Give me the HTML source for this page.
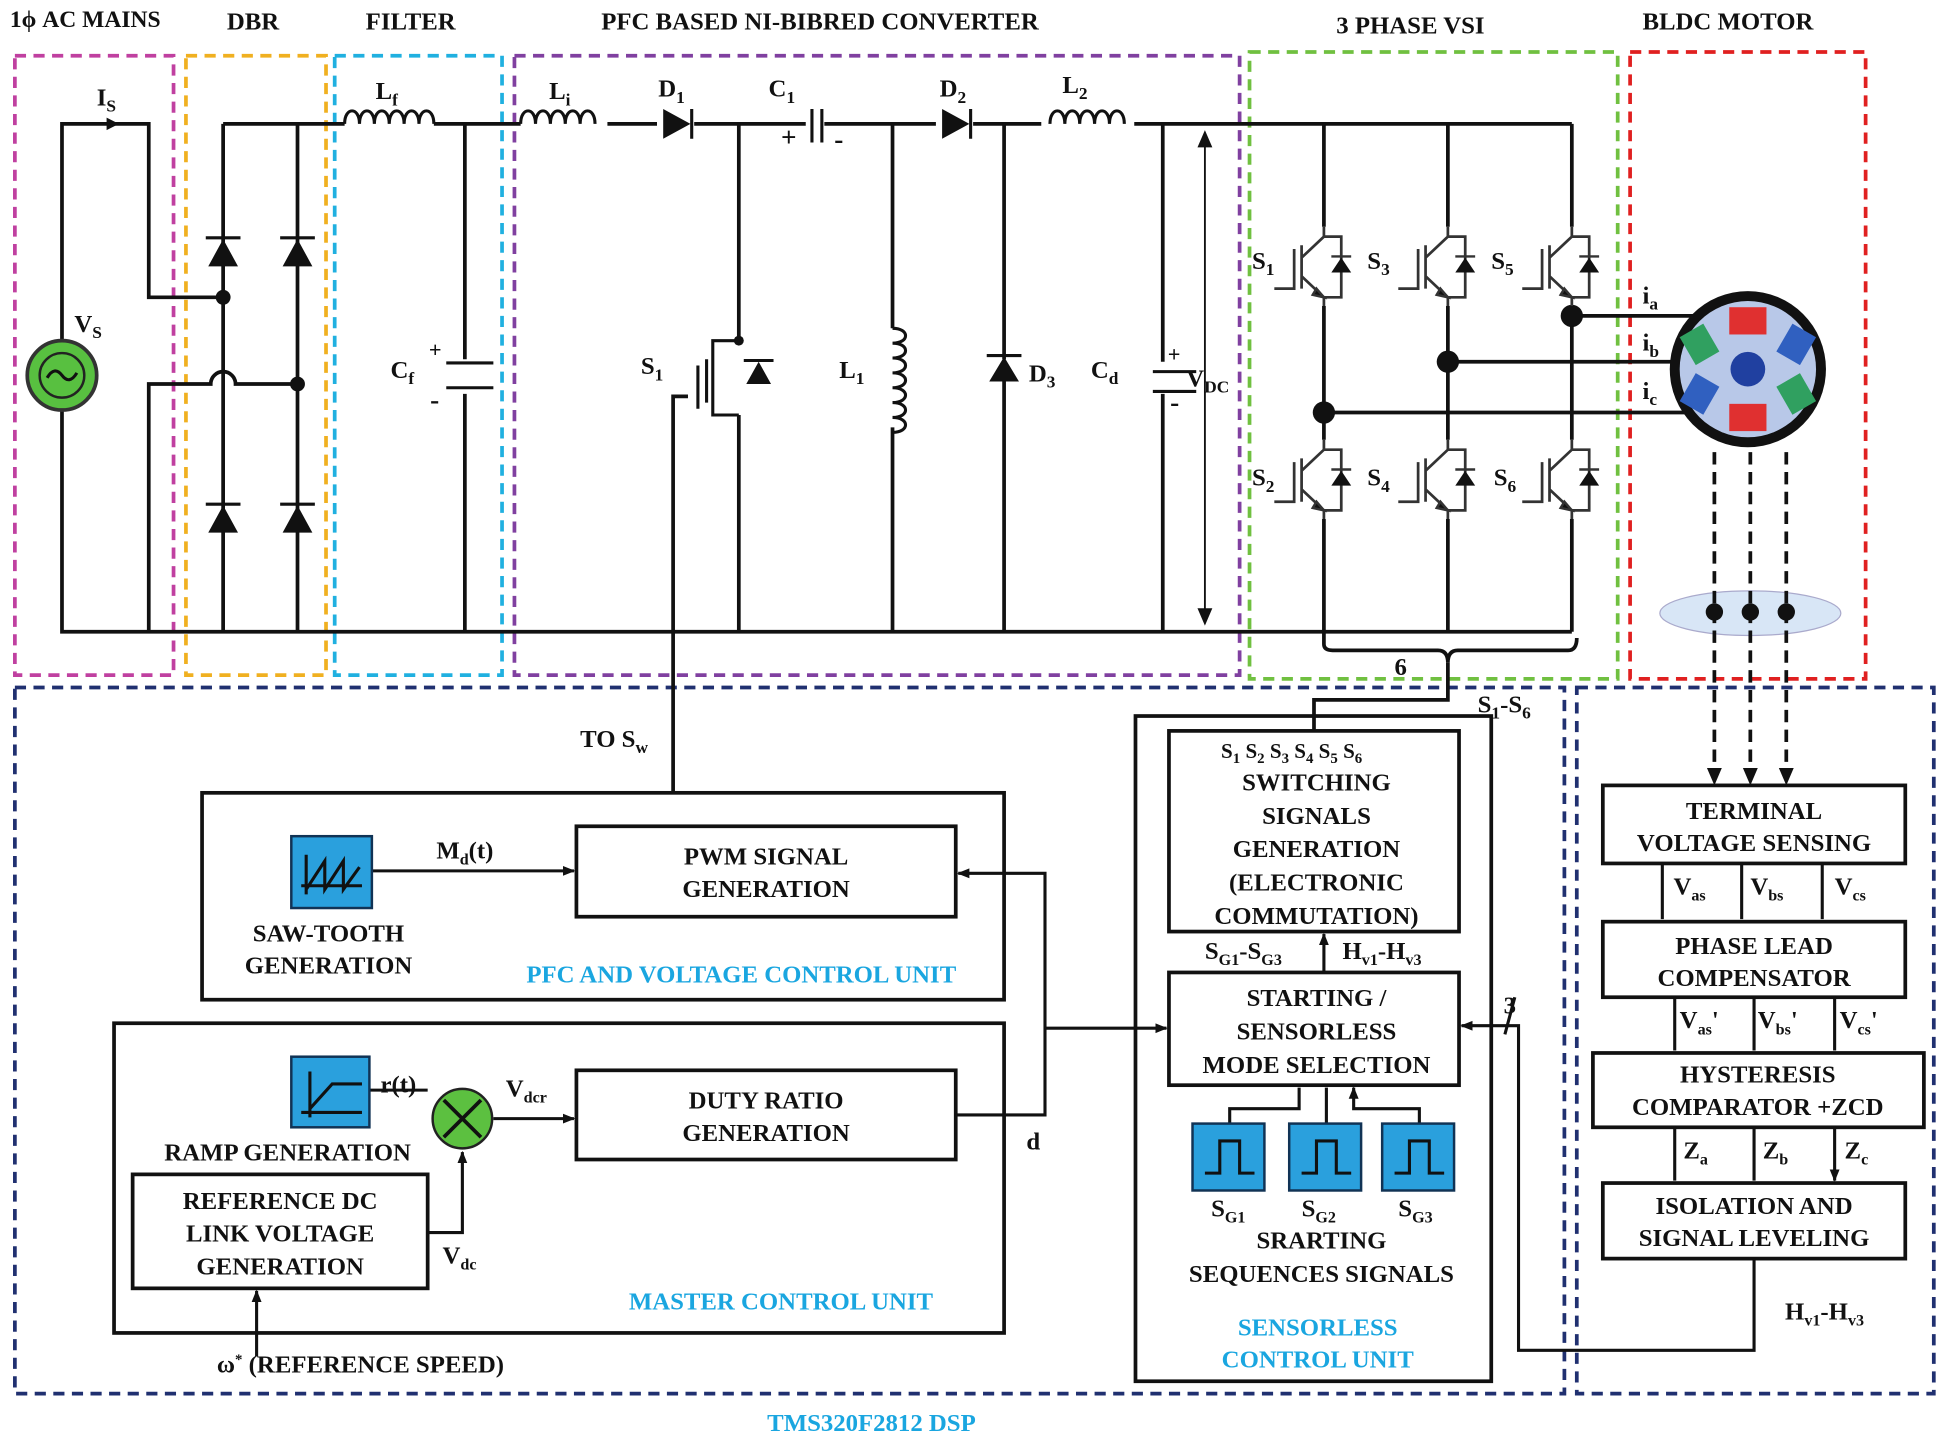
<!DOCTYPE html>
<html><head><meta charset="utf-8"><style>
html,body{margin:0;padding:0;background:#fff}
svg{display:block}
text{font-family:"Liberation Serif",serif;font-weight:bold;fill:#111}
.t{font-size:20px}
.c{fill:#1aa6e0}
</style></head><body>
<svg width="1940" height="1437" viewBox="0 0 1565 1160" preserveAspectRatio="none" xmlns="http://www.w3.org/2000/svg">
<defs>
<marker id="ar" markerWidth="10" markerHeight="10" refX="9" refY="5" orient="auto" markerUnits="userSpaceOnUse"><path d="M0,1 L10,5 L0,9z" fill="#111"/></marker>
<g id="igbt" stroke="#333" stroke-width="2" fill="none">
<path d="M0,0 V8 L-18,25 M-18,15 V50 M-18,40 L0,57 V64 M-24,18 V50 H-40 M0,8 H14 V57 H0" stroke-width="2.2"/>
<path d="M6,37 L14,25 L22,37z" fill="#111" stroke="none"/><path d="M6,24 H22" />
<path d="M-6,50 L0,57 L-9,55z" fill="#111"/>
</g>
<g id="sq"><rect x="0" y="0" width="58" height="54" fill="#2aa0dd" stroke="#135" stroke-width="2"/><path d="M10,40 H22 V14 H38 V40 H50" stroke="#111" stroke-width="2.5" fill="none"/></g>
</defs>
<rect width="1565" height="1160" fill="#fff"/>
<g class="t"><text x="8" y="22" font-size="19">1ϕ AC MAINS</text><text x="183" y="24">DBR</text><text x="295" y="24">FILTER</text><text x="485" y="24">PFC BASED NI-BIBRED CONVERTER</text><text x="1078" y="27">3 PHASE VSI</text><text x="1325" y="24">BLDC MOTOR</text></g>
<g fill="none" stroke-width="3" stroke-dasharray="9,6">
<rect x="12" y="45" width="128" height="500" stroke="#c040a0"/>
<rect x="150" y="45" width="113" height="500" stroke="#f0b020"/>
<rect x="270" y="45" width="135" height="500" stroke="#20b0e0"/>
<rect x="415" y="45" width="585" height="500" stroke="#8040a0"/>
<rect x="1008" y="42" width="297" height="506" stroke="#70c040"/>
<rect x="1315" y="42" width="190" height="506" stroke="#e02020"/>
<rect x="12" y="555" width="1250" height="570" stroke="#203070"/>
<rect x="1272" y="555" width="288" height="570" stroke="#203070"/>
</g>
<g stroke="#111" stroke-width="3" fill="none">
<path d="M50,275 V100 H120 V240 H180"/>
<path d="M50,332 V510 H1268"/>
<path d="M120,510 V310 H170 A10,10 0 0 1 190,310 H240"/>
<path d="M180,100 V510 M240,100 V510 M180,100 H278"/>
<path d="M350,100 H420 M490,100 H530 M560,100 H650 M665,100 H755 M785,100 H840 M915,100 H1268"/>
<path d="M375,100 V290 M375,318 V510"/>
<path d="M596,100 V275 M596,335 V510"/>
<path d="M720,100 V265 M720,345 V510"/>
<path d="M810,100 V290 M810,305 V510"/>
<path d="M938,100 V292 M938,318 V510"/>
<path d="M1068,100 V183 M1068,247 V355 M1068,419 V510"/>
<path d="M1168,100 V183 M1168,247 V355 M1168,419 V510"/>
<path d="M1268,100 V183 M1268,247 V355 M1268,419 V510"/>
<path d="M1068,333 H1380 M1168,292 H1380 M1268,255 H1370"/>
<path d="M1068,510 V520 Q1068,525 1075,525 H1160 Q1168,525 1168,535 Q1168,525 1176,525 H1265 Q1272,525 1272,515"/>
<path d="M1168,535 V565 H1060 V590"/>
<path d="M543,640 V320 H555"/>
<path d="M596,275 H575 V335 H596" stroke-width="2.5"/>
<path d="M360,293 H398 M360,313 H398 M930,300 H965 M930,316 H965" stroke-width="2.5"/>
<path d="M655,88 V115 M663,88 V115" stroke-width="2.5"/>
</g>
<g stroke="#111" stroke-width="1.5"><path d="M972,110 V500"/></g>
<path d="M972,105 l-6,14 h12z M972,505 l-6,-14 h12z" fill="#111"/>
<g stroke="#111" stroke-width="2.5" fill="none">
<path d="M278,100 c0,-14 12,-14 12,0 c0,-14 12,-14 12,0 c0,-14 12,-14 12,0 c0,-14 12,-14 12,0 c0,-14 12,-14 12,0 c0,-14 12,-14 12,0"/>
<path d="M420,100 c0,-14 12,-14 12,0 c0,-14 12,-14 12,0 c0,-14 12,-14 12,0 c0,-14 12,-14 12,0 c0,-14 12,-14 12,0"/>
<path d="M847,100 c0,-14 12,-14 12,0 c0,-14 12,-14 12,0 c0,-14 12,-14 12,0 c0,-14 12,-14 12,0 c0,-14 12,-14 12,0"/>
<path d="M720,265 c14,0 14,12 0,12 c14,0 14,12 0,12 c14,0 14,12 0,12 c14,0 14,12 0,12 c14,0 14,12 0,12 c14,0 14,12 0,12 c14,0 14,12 0,12"/>
</g>
<g fill="#111">
<path d="M168,215 L180,193 L192,215z M228,215 L240,193 L252,215z M168,430 L180,408 L192,430z M228,430 L240,408 L252,430z"/>
<path d="M535,88 L557,100 L535,112z M760,88 L782,100 L760,112z M798,308 L810,288 L822,308z M602,310 L612,292 L622,310z"/>
<circle cx="180" cy="240" r="6"/><circle cx="240" cy="310" r="6"/><circle cx="596" cy="275" r="4"/>
<circle cx="1068" cy="333" r="9"/><circle cx="1168" cy="292" r="9"/><circle cx="1268" cy="255" r="9"/>
</g>
<g stroke="#111" stroke-width="2.5"><path d="M166,192 H194 M226,192 H254 M166,407 H194 M226,407 H254 M558,88 V112 M783,88 V112 M796,287 H824 M600,291 H624"/>
<path d="M570,290 V325 M563,295 V330" /></g>
<use href="#igbt" x="1068" y="183"/><use href="#igbt" x="1168" y="183"/><use href="#igbt" x="1268" y="183"/>
<use href="#igbt" x="1068" y="355"/><use href="#igbt" x="1168" y="355"/><use href="#igbt" x="1268" y="355"/>
<circle cx="50" cy="303" r="28" fill="#58c040" stroke="#333" stroke-width="3"/>
<circle cx="50" cy="303" r="18" fill="none" stroke="#222" stroke-width="2"/>
<path d="M38,305 q6,-10 12,-2 q6,8 12,-2" stroke="#111" stroke-width="2.5" fill="none"/>
<path d="M96,100 l-10,-5 v10z" fill="#111"/>
<circle cx="1410" cy="298" r="63" fill="#111"/>
<circle cx="1410" cy="298" r="55" fill="#b8c8e8"/>
<rect x="1395" y="248" width="30" height="22" fill="#e03030"/><rect x="1395" y="326" width="30" height="22" fill="#e03030"/>
<rect x="1360" y="265" width="22" height="26" fill="#30a060" transform="rotate(-30 1371 278)"/><rect x="1438" y="305" width="22" height="26" fill="#30a060" transform="rotate(-30 1449 318)"/>
<rect x="1438" y="265" width="22" height="26" fill="#3060c0" transform="rotate(30 1449 278)"/><rect x="1360" y="305" width="22" height="26" fill="#3060c0" transform="rotate(30 1371 318)"/>
<circle cx="1410" cy="298" r="14" fill="#2040a0"/>
<ellipse cx="1412" cy="495" rx="73" ry="18" fill="#d8e6f6" stroke="#aac" stroke-width="1"/>
<g stroke="#111" stroke-width="3" stroke-dasharray="10,6"><path d="M1383,365 V628 M1412,365 V628 M1441,365 V628"/></g>
<g fill="#111"><circle cx="1383" cy="494" r="7"/><circle cx="1412" cy="494" r="7"/><circle cx="1441" cy="494" r="7"/>
<path d="M1377,620 l6,14 l6,-14z M1406,620 l6,14 l6,-14z M1435,620 l6,14 l6,-14z"/></g>
<g class="t">
<text x="78" y="85">I<tspan font-size="14" dy="5">S</tspan></text>
<text x="60" y="268">V<tspan font-size="14" dy="5">S</tspan></text>
<text x="303" y="80">L<tspan font-size="14" dy="5">f</tspan></text>
<text x="443" y="80">L<tspan font-size="14" dy="5">i</tspan></text>
<text x="531" y="78">D<tspan font-size="14" dy="5">1</tspan></text>
<text x="620" y="78">C<tspan font-size="14" dy="5">1</tspan></text>
<text x="758" y="78">D<tspan font-size="14" dy="5">2</tspan></text>
<text x="857" y="75">L<tspan font-size="14" dy="5">2</tspan></text>
<text x="315" y="305">C<tspan font-size="14" dy="5">f</tspan></text>
<text x="517" y="302">S<tspan font-size="14" dy="5">1</tspan></text>
<text x="677" y="305">L<tspan font-size="14" dy="5">1</tspan></text>
<text x="830" y="308">D<tspan font-size="14" dy="5">3</tspan></text>
<text x="880" y="305">C<tspan font-size="14" dy="5">d</tspan></text>
<text x="957" y="312">V<tspan font-size="14" dy="5">DC</tspan></text>
<text x="1010" y="217">S<tspan font-size="14" dy="5">1</tspan></text><text x="1103" y="217">S<tspan font-size="14" dy="5">3</tspan></text><text x="1203" y="217">S<tspan font-size="14" dy="5">5</tspan></text>
<text x="1010" y="392">S<tspan font-size="14" dy="5">2</tspan></text><text x="1103" y="392">S<tspan font-size="14" dy="5">4</tspan></text><text x="1205" y="392">S<tspan font-size="14" dy="5">6</tspan></text>
<text x="1325" y="245">i<tspan font-size="14" dy="5">a</tspan></text><text x="1325" y="283">i<tspan font-size="14" dy="5">b</tspan></text><text x="1325" y="322">i<tspan font-size="14" dy="5">c</tspan></text>
<text x="630" y="118" font-size="22">+</text><text x="673" y="120" font-size="22">-</text>
<text x="346" y="288" font-size="18">+</text><text x="347" y="330" font-size="22">-</text>
<text x="942" y="292" font-size="18">+</text><text x="944" y="332" font-size="22">-</text>
<text x="1125" y="545">6</text>
<text x="1192" y="575">S<tspan font-size="14" dy="5">1</tspan><tspan dy="-5">-S</tspan><tspan font-size="14" dy="5">6</tspan></text>
<text x="468" y="603">TO S<tspan font-size="14" dy="5">w</tspan></text>
</g>
<g fill="none" stroke="#111" stroke-width="3">
<rect x="163" y="640" width="647" height="167"/>
<rect x="92" y="826" width="718" height="250"/>
<rect x="916" y="578" width="287" height="537"/>
<rect x="465" y="667" width="306" height="73"/>
<rect x="465" y="864" width="306" height="72"/>
<rect x="107" y="948" width="238" height="92"/>
<rect x="943" y="590" width="234" height="162"/>
<rect x="943" y="785" width="234" height="91"/>
<rect x="1293" y="634" width="244" height="63"/>
<rect x="1293" y="744" width="244" height="61"/>
<rect x="1285" y="850" width="267" height="60"/>
<rect x="1293" y="955" width="244" height="61"/>
</g>
<g stroke="#111" stroke-width="2.5" fill="none">
<path d="M300,703 H463" marker-end="url(#ar)"/>
<path d="M298,880 H345 M398,903 H463" marker-end="url(#ar)"/>
<path d="M345,995 H373 V930" marker-end="url(#ar)"/>
<path d="M771,900 H843 V705 H773" marker-end="url(#ar)"/>
<path d="M843,830 H941" marker-end="url(#ar)"/>
<path d="M207,1095 V1042" marker-end="url(#ar)"/>
<path d="M1068,785 V754" marker-end="url(#ar)"/>
<path d="M1415,1016 V1090 H1225 V828 H1179" marker-end="url(#ar)"/>
<path d="M1341,697 V742 M1405,697 V742 M1470,697 V742 M1351,805 V848 M1415,805 V848 M1480,805 V848 M1351,910 V953 M1415,910 V953 M1480,910 V953" marker-end="url(#ar)"/>
<path d="M1222,805 l-8,30" />
<path d="M992,907 V895 H1048 V878 M1070,907 V878 M1145,907 V895 H1092 V878" marker-end="url(#ar)"/>
</g>
<rect x="235" y="675" width="65" height="58" fill="#2aa0dd" stroke="#135" stroke-width="2"/>
<path d="M243,715 H292 M247,690 V722 M247,718 L262,695 V718 L277,695 V718 L290,700" stroke="#111" stroke-width="2.5" fill="none"/>
<rect x="235" y="853" width="63" height="57" fill="#2aa0dd" stroke="#135" stroke-width="2"/>
<path d="M243,898 H292 M250,865 V902 M250,895 L268,875 H292" stroke="#111" stroke-width="2.5" fill="none"/>
<circle cx="373" cy="903" r="24" fill="#5cc040" stroke="#222" stroke-width="2"/>
<path d="M358,888 L388,918 M388,888 L358,918" stroke="#111" stroke-width="3"/>
<use href="#sq" x="962" y="907"/><use href="#sq" x="1040" y="907"/><use href="#sq" x="1115" y="907"/>
<g class="t" text-anchor="middle" font-size="19">
<text x="618" y="698">PWM SIGNAL</text><text x="618" y="724">GENERATION</text>
<text x="618" y="895">DUTY RATIO</text><text x="618" y="921">GENERATION</text>
<text x="226" y="976">REFERENCE DC</text><text x="226" y="1002">LINK VOLTAGE</text><text x="226" y="1029">GENERATION</text>
<text x="265" y="760">SAW-TOOTH</text><text x="265" y="786">GENERATION</text>
<text x="232" y="937">RAMP GENERATION</text>
<text x="1062" y="638">SWITCHING</text><text x="1062" y="665">SIGNALS</text><text x="1062" y="692">GENERATION</text><text x="1062" y="719">(ELECTRONIC</text><text x="1062" y="746">COMMUTATION)</text>
<text x="1062" y="812">STARTING /</text><text x="1062" y="839">SENSORLESS</text><text x="1062" y="866">MODE SELECTION</text>
<text x="1066" y="1008">SRARTING</text><text x="1066" y="1035">SEQUENCES SIGNALS</text>
<text x="1415" y="661">TERMINAL</text><text x="1415" y="687">VOLTAGE SENSING</text>
<text x="1415" y="770">PHASE LEAD</text><text x="1415" y="796">COMPENSATOR</text>
<text x="1418" y="874">HYSTERESIS</text><text x="1418" y="900">COMPARATOR +ZCD</text>
<text x="1415" y="980">ISOLATION AND</text><text x="1415" y="1006">SIGNAL LEVELING</text>
<text class="c" x="598" y="793">PFC AND VOLTAGE  CONTROL UNIT</text>
<text class="c" x="630" y="1057">MASTER  CONTROL  UNIT</text>
<text class="c" x="1063" y="1078">SENSORLESS</text><text class="c" x="1063" y="1104">CONTROL  UNIT</text>
<text class="c" x="703" y="1155">TMS320F2812 DSP</text>
</g>
<g class="t" font-size="19">
<text x="985" y="612" font-size="17">S<tspan font-size="12" dy="4">1</tspan><tspan dy="-4"> S</tspan><tspan font-size="12" dy="4">2</tspan><tspan dy="-4">  S</tspan><tspan font-size="12" dy="4">3</tspan><tspan dy="-4"> S</tspan><tspan font-size="12" dy="4">4</tspan><tspan dy="-4">  S</tspan><tspan font-size="12" dy="4">5</tspan><tspan dy="-4"> S</tspan><tspan font-size="12" dy="4">6</tspan></text>
<text x="972" y="774">S<tspan font-size="13" dy="5">G1</tspan><tspan dy="-5">-S</tspan><tspan font-size="13" dy="5">G3</tspan></text>
<text x="1083" y="774">H<tspan font-size="13" dy="5">v1</tspan><tspan dy="-5">-H</tspan><tspan font-size="13" dy="5">v3</tspan></text>
<text x="977" y="982">S<tspan font-size="13" dy="5">G1</tspan></text><text x="1050" y="982">S<tspan font-size="13" dy="5">G2</tspan></text><text x="1128" y="982">S<tspan font-size="13" dy="5">G3</tspan></text>
<text x="1213" y="818">3</text>
<text x="352" y="693">M<tspan font-size="13" dy="5">d</tspan><tspan dy="-5">(t)</tspan></text>
<text x="307" y="882">r(t)</text>
<text x="408" y="885">V<tspan font-size="13" dy="5">dcr</tspan></text>
<text x="357" y="1020">V<tspan font-size="13" dy="5">dc</tspan></text>
<text x="828" y="928">d</text>
<text x="175" y="1108">ω<tspan font-size="12" dy="-7">*</tspan><tspan dy="7"> (REFERENCE SPEED)</tspan></text>
<text x="1350" y="722">V<tspan font-size="13" dy="5">as</tspan></text><text x="1412" y="722">V<tspan font-size="13" dy="5">bs</tspan></text><text x="1480" y="722">V<tspan font-size="13" dy="5">cs</tspan></text>
<text x="1355" y="830">V<tspan font-size="13" dy="5">as</tspan><tspan dy="-5">'</tspan></text><text x="1418" y="830">V<tspan font-size="13" dy="5">bs</tspan><tspan dy="-5">'</tspan></text><text x="1484" y="830">V<tspan font-size="13" dy="5">cs</tspan><tspan dy="-5">'</tspan></text>
<text x="1358" y="935">Z<tspan font-size="13" dy="5">a</tspan></text><text x="1422" y="935">Z<tspan font-size="13" dy="5">b</tspan></text><text x="1488" y="935">Z<tspan font-size="13" dy="5">c</tspan></text>
<text x="1440" y="1065">H<tspan font-size="13" dy="5">v1</tspan><tspan dy="-5">-H</tspan><tspan font-size="13" dy="5">v3</tspan></text>
</g>
</svg>
</body></html>
